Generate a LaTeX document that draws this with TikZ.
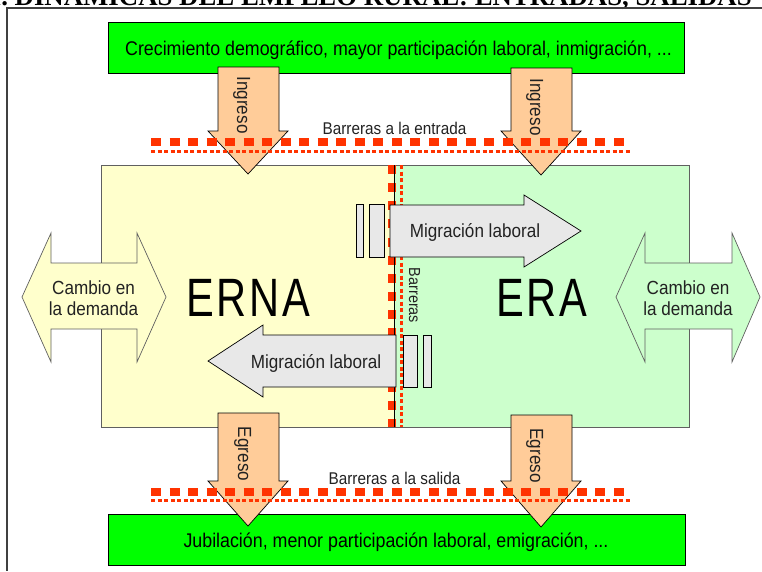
\documentclass[tikz,border=0pt]{standalone}
\usepackage{fontspec}
\setmainfont[FakeStretch=0.9]{Liberation Sans}
\newfontfamily\bigfont[FakeStretch=0.77,LetterSpace=5]{Liberation Sans}
\newfontfamily\titlefont{Liberation Serif}
\definecolor{grn}{HTML}{00FF00}
\definecolor{ernaY}{HTML}{FFFFCC}
\definecolor{eraG}{HTML}{CCFFCC}
\definecolor{orng}{HTML}{FFCC99}
\definecolor{barr}{HTML}{FF3300}
\definecolor{migr}{HTML}{E8E8E8}
\definecolor{framecol}{HTML}{404040}
\definecolor{boxgray}{HTML}{606060}
\definecolor{txtgray}{HTML}{222222}
\begin{document}
\begin{tikzpicture}[x=1pt,y=-1pt,
  box/.style={draw=black, line width=0.9pt},
  panel/.style={draw=boxgray, line width=1pt},
  shapeline/.style={draw=black, line width=0.7pt, line join=miter},
  thickbar/.style={draw=barr, line width=8pt, dash pattern=on 10pt off 8.52pt},
  vthickbar/.style={draw=barr, line width=8pt, dash pattern=on 9pt off 9.14pt},
  dotbar/.style={draw=barr, line width=3pt, dash pattern=on 4pt off 2.5pt},
  lbl/.style={inner sep=0pt, text=txtgray, font=\fontsize{19}{22}\selectfont},
  boxlbl/.style={inner sep=0pt, text=black, font=\fontsize{19.8}{23}\selectfont},
  barlbl/.style={inner sep=0pt, text=txtgray, font=\fontsize{17}{20}\selectfont},
  biglbl/.style={inner sep=0pt, text=black, font=\bigfont\fontsize{54}{58}\selectfont}]
\useasboundingbox (0,0) rectangle (762,571);
% title (cut at the top of the page, as in the reference)
\node[anchor=base east, inner sep=0pt, font=\titlefont\bfseries\fontsize{26.8}{30}\selectfont] (title) at (752,5) {I. DINÁMICAS DEL EMPLEO RURAL: ENTRADAS, SALIDAS};
% frame
\draw[framecol, line width=1.5pt] (762,8) -- (7,8) -- (7,571);
% green boxes
\draw[box, fill=grn] (108,22) rectangle (684,73);
\draw[box, fill=grn] (108,514) rectangle (685,565);
% ERNA / ERA panels
\draw[panel, fill=ernaY] (101,165) rectangle (394,427);
\draw[panel, fill=eraG] (394,165) rectangle (689,427);
% demand change double arrows
\draw[shapeline, draw=boxgray, fill=ernaY] (22,297) -- (51,233) -- (51,263) -- (137,263) -- (137,233) -- (166,297) -- (137,362) -- (137,329) -- (51,329) -- (51,362) -- cycle;
\draw[shapeline, draw=boxgray, fill=eraG] (616,297) -- (645,233) -- (645,263) -- (732,263) -- (732,233) -- (760,297) -- (732,362) -- (732,329) -- (645,329) -- (645,362) -- cycle;
% vertical barrier
\draw[vthickbar] (391.5,165) -- (391.5,427);
\draw[dotbar] (401,165) -- (401,427);
\draw[black, line width=1pt] (394,165) -- (394,427);
% labour migration arrows
\draw[shapeline, fill=migr] (390,205) -- (524,205) -- (524,195) -- (581,231) -- (524,267) -- (524,257) -- (390,257) -- cycle;
\draw[shapeline, fill=migr] (356,204) rectangle (363,257);
\draw[shapeline, fill=migr] (369,204) rectangle (384,257);
\draw[shapeline, fill=migr] (396,335) -- (263,335) -- (263,325) -- (208,361) -- (263,397) -- (263,387) -- (396,387) -- cycle;
\draw[shapeline, fill=migr] (403,335) rectangle (417,387);
\draw[shapeline, fill=migr] (423,335) rectangle (431,387);
% inflow arrows
\draw[shapeline, fill=orng] (218,67) -- (279,67) -- (279,131) -- (288,131) -- (248,174) -- (208,131) -- (218,131) -- cycle;
\draw[shapeline, fill=orng] (511,68) -- (572,68) -- (572,131) -- (581,131) -- (541,175) -- (501,131) -- (511,131) -- cycle;
% outflow arrows
\draw[shapeline, fill=orng] (218,413) -- (279,413) -- (279,481) -- (288,481) -- (248,526) -- (208,481) -- (218,481) -- cycle;
\draw[shapeline, fill=orng] (511,415) -- (572,415) -- (572,481) -- (581,481) -- (541,527) -- (501,481) -- (511,481) -- cycle;
% horizontal barriers
\draw[thickbar] (151,142) -- (624,142);
\draw[dotbar] (151,151) -- (631,151);
\draw[thickbar] (151,492) -- (624,492);
\draw[dotbar] (151,500) -- (631,500);
% texts
\node[boxlbl, anchor=base] (topt) at (398.5,55) {Crecimiento demográfico, mayor participación laboral, inmigración, ...};
\node[boxlbl, anchor=base] (bott) at (396,547) {Jubilación, menor participación laboral, emigración, ...};
\node[barlbl, anchor=base] (bent) at (394.5,134) {Barreras a la entrada};
\node[barlbl, anchor=base] (bsal) at (394.5,484) {Barreras a la salida};
\node[barlbl, anchor=base, rotate=-90, font=\fontsize{16}{19}\selectfont] (bver) at (409,295.5) {Barreras};
\node[lbl, anchor=base, rotate=-90] (ing1) at (237,105) {Ingreso};
\node[lbl, anchor=base, rotate=-90] (ing2) at (530,107) {Ingreso};
\node[lbl, anchor=base, rotate=-90] (egr1) at (238,454) {Egreso};
\node[lbl, anchor=base, rotate=-90] (egr2) at (530,455.5) {Egreso};
\node[lbl, anchor=base] (mig1) at (475,237) {Migración laboral};
\node[lbl, anchor=base] (mig2) at (316,368) {Migración laboral};
\node[lbl, anchor=base] (cl1a) at (93.5,294) {Cambio en};
\node[lbl, anchor=base] (cl1b) at (93.5,315.5) {la demanda};
\node[lbl, anchor=base] (cl2a) at (688,294) {Cambio en};
\node[lbl, anchor=base] (cl2b) at (688,315.5) {la demanda};
\node[biglbl, anchor=base] (erna) at (248,316.7) {ERNA};
\node[biglbl, anchor=base] (era) at (542,316.7) {ERA};
\end{tikzpicture}
\end{document}
